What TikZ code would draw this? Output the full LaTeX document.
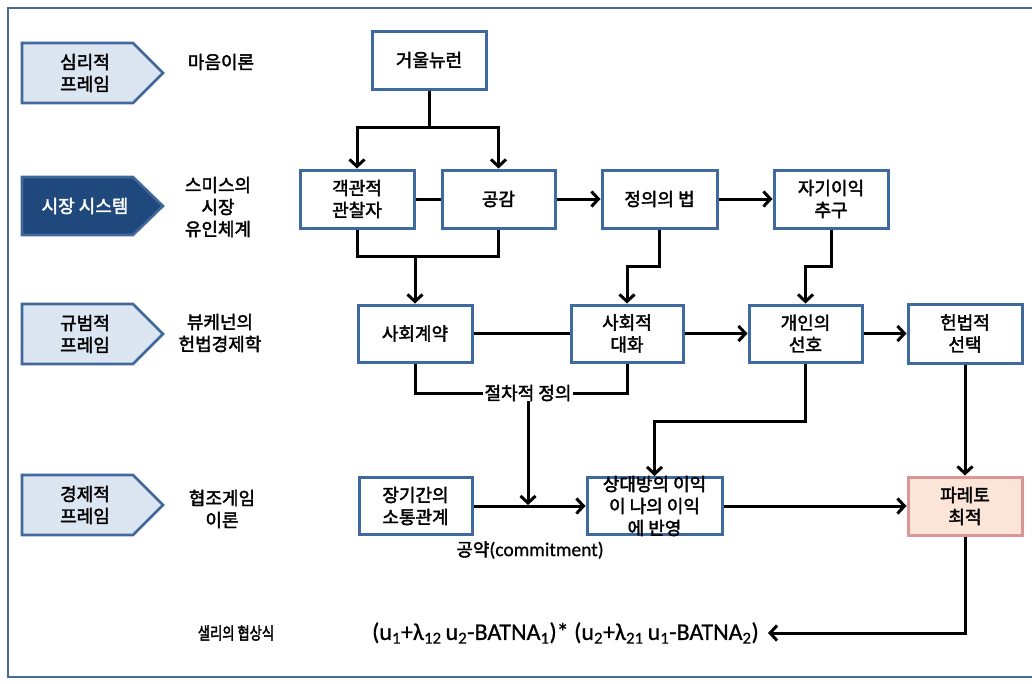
\documentclass[tikz,border=0pt]{standalone}
\usepackage{graphicx}
\usepackage{fontspec}
\setmainfont{Noto Sans CJK KR}[FakeBold=2.2]
\newfontfamily\calfont{Carlito}[FakeBold=0.8]
\usetikzlibrary{arrows.meta}
\definecolor{boxblue}{HTML}{3F6AA0}
\definecolor{framecol}{HTML}{4A6A9C}
\definecolor{pentfill}{HTML}{DCE6F2}
\definecolor{pentdark}{HTML}{1F497D}
\definecolor{pentline}{HTML}{41689A}
\definecolor{parfill}{HTML}{FBE4D8}
\definecolor{pardraw}{HTML}{D99694}
\begin{document}
\begin{tikzpicture}[x=1pt,y=-1pt,
  box/.style={draw=boxblue,line width=3pt,fill=white,minimum height=58pt,align=center,inner sep=0pt,font=\fontsize{18}{22}\selectfont},
  lbl/.style={align=center,inner sep=0pt,font=\fontsize{18}{22}\selectfont},
  conn/.style={line width=3pt,draw=black},
  arr/.style={conn,-{Straight Barb[length=7pt,width=15pt]}},
  pent/.style={draw=pentline,line width=2.6pt,fill=pentfill,line join=miter},
]
\useasboundingbox (0,0) rectangle (1032,683);
% frame
\begin{scope}
\clip (0,0) rectangle (1032,683);
\draw[framecol,line width=2.2pt] (1040,8) -- (8,8) -- (8,677) -- (1040,677);
\end{scope}

% left pentagons
\draw[pent] (22,43) -- (133,43) -- (163,73) -- (133,103) -- (22,103) -- cycle;
\node[lbl] (f1) at (85,73) {심리적\\프레임};
\draw[pent,fill=pentdark,draw=pentline] (22,177) -- (133,177) -- (163,206) -- (133,235) -- (22,235) -- cycle;
\node[lbl,text=white] (f2) at (85,206) {시장 시스템};
\draw[pent] (22,304) -- (133,304) -- (163,334) -- (133,364) -- (22,364) -- cycle;
\node[lbl] (f3) at (85,334) {규범적\\프레임};
\draw[pent] (22,475) -- (133,475) -- (163,505) -- (133,535) -- (22,535) -- cycle;
\node[lbl] (f4) at (85,505) {경제적\\프레임};

% theory labels
\node[lbl] (t1) at (221,62) {마음이론};
\node[lbl] (t2) at (218,207) {스미스의\\시장\\유인체계};
\node[lbl] (t3) at (220,333) {뷰케넌의\\헌법경제학};
\node[lbl] (t4) at (222,509) {협조게임\\이론};
\node[lbl,font=\fontsize{17}{20}\selectfont] (t5) at (236,633) {\scalebox{0.78}[1]{샐리의 협상식}};

% boxes
\node[box,minimum width=114pt] (mirror) at (429,60) {거울뉴런};
\node[box,minimum width=114pt] (obs) at (357,199) {객관적\\관찰자};
\node[box,minimum width=113pt] (emp) at (498.5,199) {공감};
\node[box,minimum width=115pt] (just) at (659.5,199) {정의의 법};
\node[box,minimum width=114pt] (self) at (831,199) {자기이익\\추구};
\node[box,minimum width=114pt,minimum height=57pt] (contract) at (415,333.5) {사회계약};
\node[box,minimum width=112pt,minimum height=57pt] (dialog) at (627,333.5) {사회적\\대화};
\node[box,minimum width=113pt,minimum height=57pt] (pref) at (805.5,333.5) {개인의\\선호};
\node[box,minimum width=114pt,minimum height=59pt] (const) at (965,333.5) {헌법적\\선택};
\node[box,minimum width=113pt,minimum height=57pt] (longterm) at (415.5,506) {장기간의\\소통관계};
\node[box,minimum width=135pt,minimum height=57pt] (other) at (654.5,506) {};
\node[lbl] (othertext) at (654.5,506) {상대방의 이익\\이 나의 이익\\에 반영};
\node[box,minimum width=114pt,minimum height=58pt,fill=parfill,draw=pardraw] (pareto) at (965,506) {파레토\\최적};

% text labels on connectors
\node[lbl,fill=white,inner xsep=1pt] (proc) at (528,393) {절차적 정의};
\node[lbl] (commit) at (530,550) {공약{\calfont\fontsize{19.5}{22}\selectfont(commitment)}};
\node[inner sep=1pt,anchor=east,font=\calfont\fontsize{24}{26}\selectfont] (formula) at (760,633)
  {(u\textsubscript{1}+λ\textsubscript{12}\,u\textsubscript{2}-BATNA\textsubscript{1})* (u\textsubscript{2}+λ\textsubscript{21}\,u\textsubscript{1}-BATNA\textsubscript{2})};

% connectors
\coordinate (mj) at (429,127);
\draw[conn] (mirror.south) -- (mj);
\draw[arr] (mj) -| (obs.north);
\draw[arr] (mj) -| (emp.north);
\draw[conn] (obs) -- (emp);
\draw[arr] (emp) -- (just);
\draw[arr] (just) -- (self);

\coordinate (oj) at (415,256);
\draw[conn] (obs.south) |- (oj) -| (emp.south);
\draw[arr] (oj) -- (contract.north);
\coordinate (jd) at (627,266);
\draw[arr] (just.south) |- (jd) -- (dialog.north);
\coordinate (sd) at (805.5,266);
\draw[arr] (self.south) |- (sd) -- (pref.north);

\draw[conn] (contract) -- (dialog);
\draw[arr] (dialog) -- (pref);
\draw[arr] (pref) -- (const);

\draw[conn] (contract.south) |- (proc.west);
\draw[conn] (dialog.south) |- (proc.east);
\coordinate (pj) at (528,505);
\draw[arr] (proc.south) -- (pj);

\coordinate (pk) at (654.5,421);
\draw[arr] (pref.south) |- (pk) -- (other.north);
\draw[arr] (const) -- (pareto);
\draw[arr] (longterm) -- (other);
\draw[arr] (other) -- (pareto);
\draw[arr] (pareto.south) |- ([xshift=8pt]formula.east);
\end{tikzpicture}
\end{document}
